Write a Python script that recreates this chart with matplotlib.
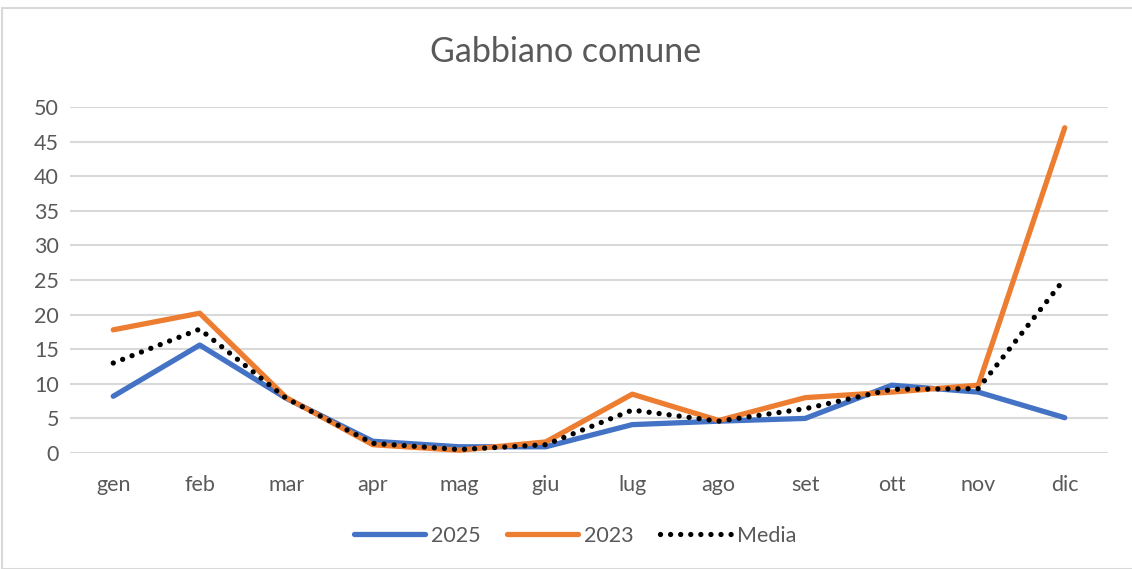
import matplotlib
matplotlib.use("Agg")
import matplotlib.pyplot as plt
from matplotlib.patches import Rectangle

months = ["gen", "feb", "mar", "apr", "mag", "giu", "lug", "ago", "set", "ott", "nov", "dic"]
y2025 = [8.2, 15.6, 7.9, 1.7, 0.9, 0.9, 4.1, 4.6, 5.0, 9.8, 8.8, 5.1]
y2023 = [17.8, 20.2, 8.0, 1.2, 0.4, 1.6, 8.5, 4.7, 8.0, 8.8, 9.8, 47.0]
media = [13.0, 17.9, 7.9, 1.4, 0.5, 1.2, 6.2, 4.6, 6.4, 9.2, 9.3, 25.2]
yticks = list(range(0, 55, 5))

plt.rcParams["font.family"] = ["Lato", "DejaVu Sans"]
grey = "#595959"

fig = plt.figure(figsize=(11.32, 5.69), dpi=100)
fig.patches.append(Rectangle((2 / 1132, 0.0), 1.0, 1 - 8 / 569, transform=fig.transFigure,
                             fill=False, edgecolor="#d9d9d9", linewidth=1.5))
ax = fig.add_axes([70 / 1132, 116 / 569, 1038 / 1132, 346 / 569])

x = list(range(len(months)))
ax.plot(x, y2025, color="#4472C4", lw=3.8, solid_capstyle="round", label="2025", zorder=3)
ax.plot(x, y2023, color="#ED7D31", lw=3.8, solid_capstyle="round", label="2023", zorder=3)
ax.plot(x, media, color="black", lw=3.8, linestyle=(0, (0.01, 1.9)), dash_capstyle="round",
        label="Media", zorder=4)

ax.set_xlim(-0.5, len(months) - 0.5)
ax.set_ylim(0, 50)
ax.set_yticks(yticks)
ax.set_xticks(x)
ax.set_xticklabels(months)
ax.yaxis.grid(True, color="#d9d9d9", lw=1.5)
ax.set_axisbelow(True)
for s in ax.spines.values():
    s.set_visible(False)
ax.tick_params(length=0, labelsize=15.5, colors=grey)
ax.tick_params(axis="y", pad=8)
ax.tick_params(axis="x", pad=16)

fig.text(0.5, 1 - 52 / 569, "Gabbiano comune", ha="center", va="center", fontsize=24.5, color=grey)
fig.legend(loc="center", bbox_to_anchor=(0.508, 1 - 536 / 569), ncol=3, frameon=False,
           fontsize=15.5, handlelength=3.3, columnspacing=1.2, handletextpad=0.3,
           labelcolor=grey)

fig.savefig("out.png", dpi=100)
